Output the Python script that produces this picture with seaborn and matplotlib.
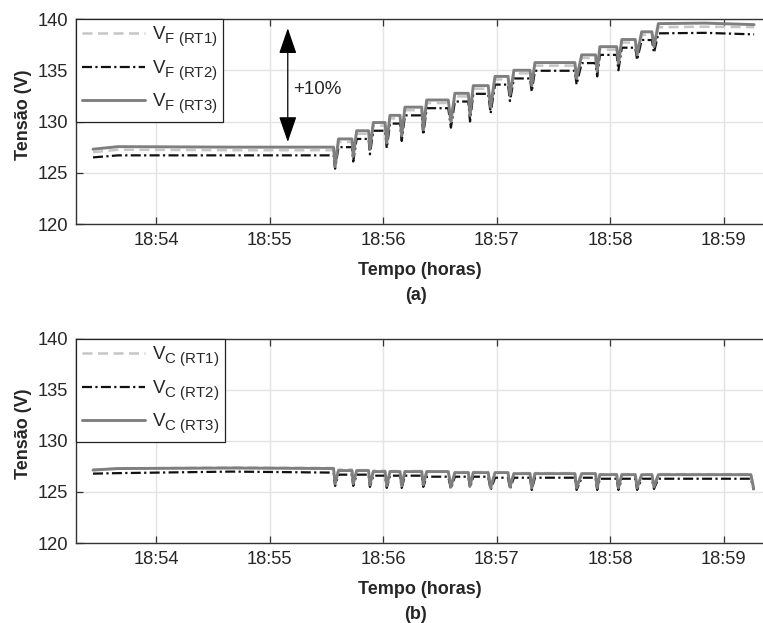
import matplotlib
matplotlib.use("Agg")
import matplotlib.pyplot as plt
import pandas as pd
import seaborn as sns

# larger, lower subscripts in legend labels (closer to the reference typesetting)
try:
    import matplotlib._mathtext as _mt
    _mt.SHRINK_FACTOR = 0.8
    _mt.FontConstantsBase.sub1 = 0.45
    _mt.FontConstantsBase.sub2 = 0.65
except Exception:
    pass

# ---------------- data (time in seconds after 18:54:00) ----------------
tick_labels = ["18:54", "18:55", "18:56", "18:57", "18:58", "18:59"]
y_ticks = [120, 125, 130, 135, 140]

# tap-change events
t_fall = [93.8, 103.5, 112.3, 121.0, 128.9, 140.4, 154.4, 165.0, 175.5,
          186.0, 197.6, 221.3, 232.2, 243.4, 253.2, 262.0]
t_bottom = [94.6, 104.2, 113.0, 121.9, 129.8, 141.2, 155.8, 165.9, 176.8,
            187.0, 198.5, 222.2, 233.1, 244.3, 254.2, 263.1]
t_rise = [96.4, 106.0, 114.8, 123.6, 131.5, 143.0, 157.9, 167.6, 179.1,
          189.1, 200.2, 224.9, 234.5, 246.1, 256.6, 265.4]

t_pre = [-33.3, -20.0, 40.0]
t_tail_f = [290.0, 316.0]
t_tail_c = [290.0, 314.3, 315.8]

# (a) V_F
vf_rt1_pre = [127.0, 127.25, 127.2]
vf_rt1_level = [127.2, 128.0, 128.8, 129.6, 130.3, 131.1, 131.8, 132.45, 133.2,
                134.1, 134.7, 135.45, 136.2, 137.0, 137.7, 138.45, 139.2]
vf_rt1_dip = [125.4, 126.4, 127.1, 127.7, 128.4, 129.0, 129.8, 130.4, 131.2,
              132.4, 133.3, 134.0, 134.7, 135.5, 136.3, 137.1]
vf_rt1_tail = [139.25, 139.2]

vf_rt2_pre = [126.5, 126.7, 126.7]
vf_rt2_level = [126.7, 127.5, 128.3, 129.1, 129.8, 130.6, 131.3, 131.95, 132.7,
                133.6, 134.2, 134.95, 135.7, 136.5, 137.2, 137.95, 138.6]
vf_rt2_dip = [125.4, 126.1, 126.8, 127.4, 128.1, 128.7, 129.4, 130.0, 130.8,
              132.0, 132.9, 133.6, 134.4, 135.0, 136.0, 136.7]
vf_rt2_tail = [138.65, 138.5]

vf_rt3_pre = [127.3, 127.55, 127.5]
vf_rt3_level = [127.5, 128.3, 129.1, 129.9, 130.6, 131.4, 132.1, 132.75, 133.5,
                134.4, 135.0, 135.75, 136.5, 137.3, 138.0, 138.75, 139.55]
vf_rt3_dip = [125.6, 126.6, 127.3, 127.9, 128.6, 129.2, 130.0, 130.6, 131.4,
              132.6, 133.5, 134.2, 134.9, 135.7, 136.5, 137.3]
vf_rt3_tail = [139.6, 139.45]

# (b) V_C
vc_rt1_pre = [127.2, 127.3, 127.4]
vc_rt1_level = [127.35, 127.2, 127.15, 127.1, 127.05, 127.05, 127.0, 126.95, 126.95,
                126.9, 126.85, 126.85, 126.8, 126.75, 126.75, 126.7, 126.75]
vc_rt1_dip = [125.9, 125.9, 125.8, 125.7, 125.7, 125.8, 125.6, 125.7, 125.5,
              125.6, 125.5, 125.5, 125.5, 125.5, 125.5, 125.6]
vc_rt1_tail = [126.75, 126.75, 125.35]

vc_rt2_pre = [126.8, 126.85, 127.0]
vc_rt2_level = [126.9, 126.7, 126.7, 126.6, 126.6, 126.6, 126.5, 126.5, 126.5,
                126.4, 126.4, 126.4, 126.4, 126.3, 126.3, 126.3, 126.3]
vc_rt2_dip = [125.6, 125.6, 125.5, 125.4, 125.4, 125.5, 125.3, 125.4, 125.2,
              125.3, 125.2, 125.2, 125.2, 125.2, 125.2, 125.3]
vc_rt2_tail = [126.3, 126.3, 125.2]

vc_rt3_pre = [127.15, 127.3, 127.35]
vc_rt3_level = [127.3, 127.1, 127.1, 127.0, 127.0, 127.0, 127.0, 126.9, 126.9,
                126.9, 126.8, 126.8, 126.8, 126.7, 126.7, 126.7, 126.7]
vc_rt3_dip = [125.8, 125.8, 125.7, 125.6, 125.6, 125.7, 125.5, 125.6, 125.4,
              125.5, 125.4, 125.4, 125.4, 125.4, 125.4, 125.5]
vc_rt3_tail = [126.7, 126.7, 125.3]

arrow_t = 69.6
arrow_v = [128.0, 139.1]
arrow_text = "+10%"


def build(name, t_pre_, v_pre, levels, dips, t_tail, v_tail):
    t = list(t_pre_)
    v = list(v_pre)
    for k in range(len(t_fall)):
        t += [t_fall[k], t_bottom[k], t_rise[k]]
        v += [levels[k], dips[k], levels[k + 1]]
    t += list(t_tail)
    v += list(v_tail)
    return pd.DataFrame({"t": t, "v": v, "serie": name})


lab_f = [r"V$_{\mathrm{F\ (RT1)}}$", r"V$_{\mathrm{F\ (RT2)}}$", r"V$_{\mathrm{F\ (RT3)}}$"]
lab_c = [r"V$_{\mathrm{C\ (RT1)}}$", r"V$_{\mathrm{C\ (RT2)}}$", r"V$_{\mathrm{C\ (RT3)}}$"]

df_f = pd.concat([
    build(lab_f[0], t_pre, vf_rt1_pre, vf_rt1_level, vf_rt1_dip, t_tail_f, vf_rt1_tail),
    build(lab_f[1], t_pre, vf_rt2_pre, vf_rt2_level, vf_rt2_dip, t_tail_f, vf_rt2_tail),
    build(lab_f[2], t_pre, vf_rt3_pre, vf_rt3_level, vf_rt3_dip, t_tail_f, vf_rt3_tail),
])
df_c = pd.concat([
    build(lab_c[0], t_pre, vc_rt1_pre, vc_rt1_level, vc_rt1_dip, t_tail_c, vc_rt1_tail),
    build(lab_c[1], t_pre, vc_rt2_pre, vc_rt2_level, vc_rt2_dip, t_tail_c, vc_rt2_tail),
    build(lab_c[2], t_pre, vc_rt3_pre, vc_rt3_level, vc_rt3_dip, t_tail_c, vc_rt3_tail),
])

# ---------------- style ----------------
sns.set_style("white")
plt.rcParams["font.family"] = ["Liberation Sans", "DejaVu Sans"]
plt.rcParams["mathtext.fontset"] = "custom"
plt.rcParams["mathtext.rm"] = "Liberation Sans"
plt.rcParams["mathtext.it"] = "Liberation Sans:italic"
plt.rcParams["mathtext.bf"] = "Liberation Sans:bold"

colors = ["#c6c6c6", "#111111", "#7f7f7f"]
dash_styles = [(4.0, 2.2), (4.5, 1.5, 1, 1.5), ""]
widths = [1.8, 1.6, 2.1]

tick_pos = [(int(s[:2]) * 60 + int(s[3:])) * 60 - (18 * 60 + 54) * 60 for s in tick_labels]

fig = plt.figure(figsize=(7.63, 6.23), dpi=100)
ax1 = fig.add_axes([0.0996, 0.6404, 0.9004, 0.3291])
ax2 = fig.add_axes([0.0996, 0.1284, 0.9004, 0.3275])

for ax, df, labs, letter in [(ax1, df_f, lab_f, "(a)"), (ax2, df_c, lab_c, "(b)")]:
    sns.lineplot(data=df, x="t", y="v", hue="serie", style="serie", size="serie",
                 hue_order=labs, style_order=labs, size_order=labs,
                 palette=dict(zip(labs, colors)), dashes=dict(zip(labs, dash_styles)),
                 sizes=dict(zip(labs, widths)),
                 estimator=None, sort=False, ax=ax)
    ax.set_xlim(-42.3, 320.7)
    ax.set_ylim(120, 140)
    ax.set_xticks(tick_pos)
    ax.set_xticklabels(tick_labels)
    ax.set_yticks(y_ticks)
    ax.grid(True, color="#e3e3e3", linewidth=1.0)
    ax.set_axisbelow(True)
    for s in ["left", "bottom", "top"]:
        ax.spines[s].set_color("#333333")
        ax.spines[s].set_linewidth(1.0)
    ax.spines["right"].set_visible(False)
    ax.tick_params(axis="both", direction="in", length=5, width=0.9, color="#333333",
                   labelsize=13.2, labelcolor="#262626", pad=6)
    ax.tick_params(axis="x", top=True, bottom=True)
    ax.tick_params(axis="y", left=True, right=False)
    ax.set_ylabel("Tensão (V)", fontsize=13, fontweight="bold")
    ax.yaxis.set_label_coords(-0.064, 0.535)
    ax.set_xlabel("Tempo (horas)", fontsize=13, fontweight="bold", labelpad=9)
    sns.move_legend(ax, loc="upper left", bbox_to_anchor=(0, 1), borderaxespad=0,
                    title=None, frameon=True, fancybox=False, framealpha=1,
                    edgecolor="#222222", fontsize=13.5, handlelength=3.4,
                    handletextpad=0.35, labelspacing=0.5, borderpad=0.3)
    ax.get_legend().get_frame().set_linewidth(0.9)
    pos = ax.get_position()
    ax.text(0.5 * (pos.x0 + pos.x1) - 0.005, pos.y0 - 0.115, letter, transform=fig.transFigure,
            ha="center", va="center", fontsize=13, fontweight="bold")

ax1.annotate("", xy=(arrow_t, arrow_v[1]), xytext=(arrow_t, arrow_v[0]),
             arrowprops=dict(arrowstyle="<|-|>,head_length=1.6,head_width=0.55",
                             mutation_scale=10, color="black", lw=0.9,
                             shrinkA=0, shrinkB=0))
ax1.text(arrow_t + 3.0, 133.1, arrow_text, ha="left", va="center", fontsize=13.5)

fig.savefig("out.png", dpi=100)
